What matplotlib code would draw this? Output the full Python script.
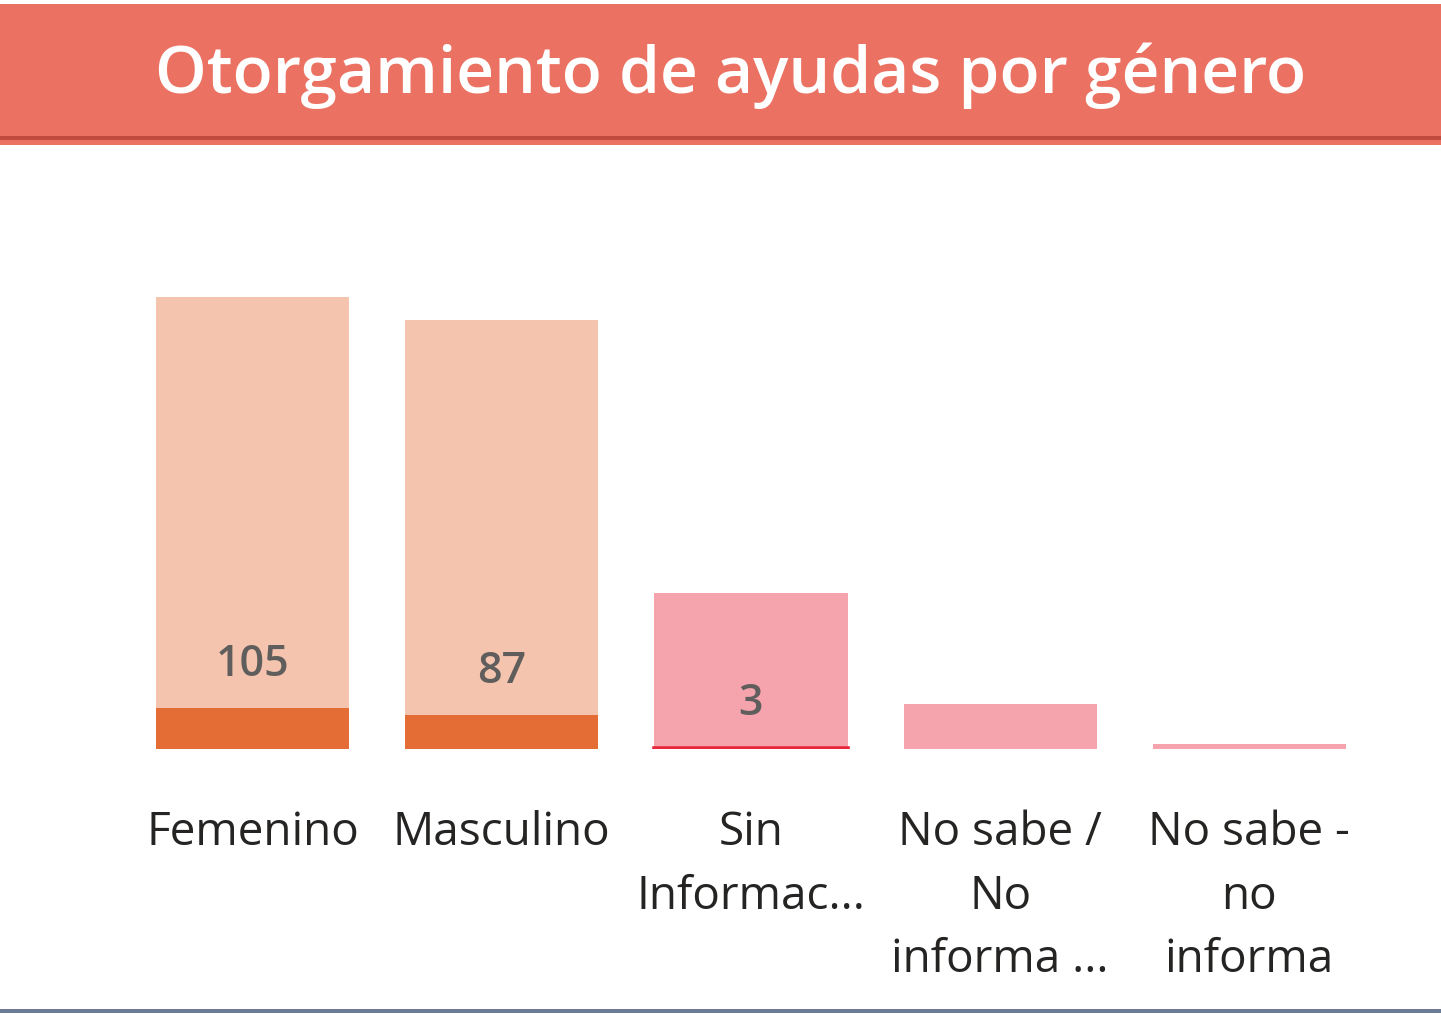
import numpy as np
import matplotlib.pyplot as plt
from matplotlib.patches import Rectangle

# === Data ===
categories = ["Femenino", "Masculino", "Sin\nInformac...", "No sabe /\nNo\ninforma ...", "No sabe -\nno\ninforma"]
otorgadas = [105, 87, 3, 0, 0]            # labelled values (dark segment)
solicitudes = [1159, 1100, 400, 115, 13]  # background bar (light)

light_colors = ["#F4C4AF", "#F4C4AF", "#F5A4AD", "#F5A4AD", "#F5A4AD"]
dark_colors = ["#E46C35", "#E46C35", "#E8283C", "#E8283C", "#E8283C"]

plt.rcParams['font.family'] = ['Open Sans', 'DejaVu Sans']

W, H = 1441, 1022
fig = plt.figure(figsize=(W / 100, H / 100), dpi=100)
fig.patch.set_facecolor("white")

# === Title banner ===
fig.patches.append(Rectangle((0, (H - 145) / H), 1, 141 / H, transform=fig.transFigure,
                             facecolor="#EB7262", edgecolor="none", zorder=0))
fig.patches.append(Rectangle((0, (H - 140) / H), 1, 4 / H, transform=fig.transFigure,
                             facecolor="#C14A3F", edgecolor="none", zorder=1))
fig.text(731 / W, 1 - 76 / H, "Otorgamiento de ayudas por género", color="white",
         fontsize=47.3, fontweight="semibold", ha="center", va="center")

# bottom rule
fig.patches.append(Rectangle((0, (H - 1013) / H), 1, 4 / H, transform=fig.transFigure,
                             facecolor="#6B7B97", edgecolor="none"))

# === Bars ===
px_per_unit = 0.39
ymax = 1200
ax_left, ax_right = 128, 1374
base_y = 749
ax = fig.add_axes([ax_left / W, (H - base_y) / H, (ax_right - ax_left) / W, ymax * px_per_unit / H])

x = np.arange(len(categories))
ax.bar(x, solicitudes, width=0.775, color=light_colors, zorder=1)
ax.bar(x, otorgadas, width=0.775, color=dark_colors, zorder=2,
       edgecolor=dark_colors, linewidth=[0, 0, 2.6, 0, 0])

for xi, v in zip(x, otorgadas):
    if v > 0:
        ax.annotate(str(v), (xi, v), xytext=(0, 44), textcoords="offset pixels",
                    ha="center", va="center", fontsize=31, fontweight="semibold",
                    color="#605E5C")

ax.set_xlim(-0.5, len(categories) - 0.5)
ax.set_ylim(0, ymax)
ax.set_yticks([])
ax.set_xticks(x)
ax.set_xticklabels(categories, fontsize=33, color="#252423", linespacing=1.5)
ax.tick_params(axis="x", length=0, pad=44)
for s in ax.spines.values():
    s.set_visible(False)

fig.savefig("out.png", dpi=100)
